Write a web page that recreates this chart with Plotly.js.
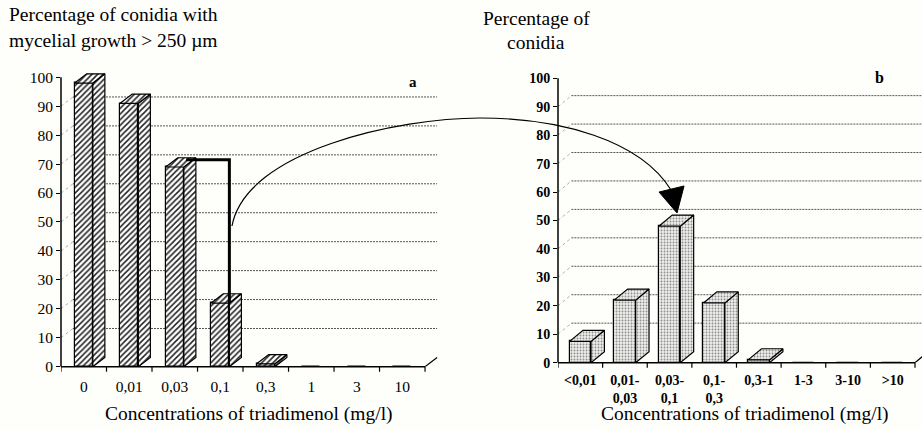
<!DOCTYPE html>
<html><head><meta charset="utf-8">
<script src="https://cdn.plot.ly/plotly-3.0.1.min.js"></script>
<style>html,body{margin:0;padding:0;background:#fefefb;} #chart{width:922px;height:429px;}</style>
</head><body><div id="chart"></div>
<script>
// ---- data ----
const leftCategories = ["0", "0,01", "0,03", "0,1", "0,3", "1", "3", "10"];
const leftValues = [98, 91, 69, 22, 1, 0, 0, 0];
const rightCategories = ["&lt;0,01", "0,01-<br>0,03", "0,03-<br>0,1", "0,1-<br>0,3", "0,3-1", "1-3", "3-10", "&gt;10"];
const rightValues = [7.5, 22, 48, 21, 1, 0, 0, 0];
const yTicks = [0, 10, 20, 30, 40, 50, 60, 70, 80, 90, 100];
const gridLevels = [10, 20, 30, 40, 50, 60, 70, 80, 90];
const leftTitleLines = ["Percentage of conidia with", "mycelial growth &gt; 250 µm"];
const rightTitleLines = ["Percentage of", "conidia"];
const xTitleText = "Concentrations of triadimenol (mg/l)";

// ---- style ----
const FONT = 'Liberation Serif';
const W = 922, H = 429;
const L = {w: 0.4, dx: 0.264, dy: 3.2, xa: 'x', ya: 'y', xr: [-0.5, 7.8], yr: [0, 104],
  xd: [61 / W, 438.7 / W], yd: [(H - 366.7) / H, (H - 65.7) / H]};
const R = {w: 0.48, dx: 0.30, dy: 3.9, xa: 'x2', ya: 'y2', xr: [-0.5, 7.657], yr: [0, 104],
  xd: [558 / W, 1], yd: [(H - 362.7) / H, (H - 66.9) / H]};
const hatch = {shape: '/', fgcolor: '#222', bgcolor: '#ffffff', size: 4, solidity: 0.38};
const stipple = {shape: '.', fgcolor: '#8a8a8a', bgcolor: '#f2f2f0', size: 3, solidity: 0.35};

function idx(arr) { return arr.map((_, i) => i); }

function faces(values, cfg) {
  const side = {x: [], y: []}, top = {x: [], y: []};
  values.forEach((v, i) => {
    if (v <= 0) return;
    const xl = i - cfg.w / 2, xr = i + cfg.w / 2;
    side.x.push(xr, xr + cfg.dx, xr + cfg.dx, xr, xr, null);
    side.y.push(0, cfg.dy, v + cfg.dy, v, 0, null);
    top.x.push(xl, xl + cfg.dx, xr + cfg.dx, xr, xl, null);
    top.y.push(v, v + cfg.dy, v + cfg.dy, v, v, null);
  });
  return {side, top};
}

function barTraces(values, cfg, pattern) {
  const f = faces(values, cfg);
  const base = {xaxis: cfg.xa, yaxis: cfg.ya, hoverinfo: 'skip', showlegend: false};
  return [
    Object.assign({type: 'bar', x: idx(values), y: values, width: cfg.w,
      marker: {color: pattern.bgcolor, pattern: pattern, line: {color: '#000', width: 1.2}}}, base),
    Object.assign({type: 'scatter', mode: 'lines', x: f.side.x, y: f.side.y, fill: 'toself',
      fillcolor: pattern.bgcolor, fillpattern: pattern, line: {color: '#000', width: 1.2}}, base),
    Object.assign({type: 'scatter', mode: 'lines', x: f.top.x, y: f.top.y, fill: 'toself',
      fillcolor: pattern.bgcolor, fillpattern: pattern, line: {color: '#000', width: 1.2}}, base)
  ];
}

function wallShapes(cfg, n) {
  const s = [];
  // axis lines (domain refs are not clipped)
  s.push({type: 'line', xref: cfg.xa + ' domain', yref: cfg.ya, x0: 0, x1: 0, y0: 0, y1: 100,
    line: {color: '#000', width: 1.5}});
  s.push({type: 'line', xref: cfg.xa, yref: cfg.ya + ' domain', x0: -0.5, x1: n - 0.5, y0: 0, y1: 0,
    line: {color: '#000', width: 1.5}});
  // category boundary ticks
  for (let b = 0; b <= n; b++) {
    s.push({type: 'line', xref: cfg.xa, yref: cfg.ya + ' domain', x0: b - 0.5, x1: b - 0.5,
      y0: 0, y1: -5 / H / (cfg.yd[1] - cfg.yd[0]), line: {color: '#000', width: 1.2}});
  }
  // back-wall gridlines and the small diagonals from the axis ticks
  gridLevels.forEach(k => {
    s.push({type: 'line', xref: cfg.xa, yref: cfg.ya, layer: 'below',
      x0: -0.5 + cfg.dx, x1: n - 0.5 + cfg.dx, y0: k + cfg.dy, y1: k + cfg.dy,
      line: {color: '#555', width: 1, dash: '2px,1px'}});
    s.push({type: 'line', xref: cfg.xa, yref: cfg.ya, layer: 'below',
      x0: -0.5, x1: -0.5 + cfg.dx, y0: k, y1: k + cfg.dy,
      line: {color: '#999', width: 0.8, dash: 'dot'}});
  });
  // floor right edge
  s.push({type: 'line', xref: cfg.xa, yref: cfg.ya, x0: n - 0.5, x1: n - 0.5 + cfg.dx, y0: 0, y1: cfg.dy,
    line: {color: '#000', width: 1.2}});
  return s;
}

const n = leftCategories.length;
const traces = [].concat(barTraces(leftValues, L, hatch), barTraces(rightValues, R, stipple));

function px(x, y) { return (x / W).toFixed(4) + ',' + (1 - y / H).toFixed(4); }

const shapes = [].concat(wallShapes(L, n), wallShapes(R, n));
// thick connector in left chart
shapes.push({type: 'path', xref: 'x', yref: 'y',
  path: 'M 2.25,' + (leftValues[2] + 2.5) + ' L ' + (3 + L.w / 2) + ',' + (leftValues[2] + 2.5) + ' L ' + (3 + L.w / 2) + ',' + leftValues[3],
  line: {color: '#000', width: 3}});
// curved arrow between panels
shapes.push({type: 'path', xref: 'paper', yref: 'paper',
  path: 'M ' + px(232, 226) + ' C ' + px(246, 150) + ' ' + px(400, 118) + ' ' + px(480, 118) +
        ' C ' + px(560, 118) + ' ' + px(640, 140) + ' ' + px(671, 190),
  line: {color: '#000', width: 1.2}});
shapes.push({type: 'path', xref: 'paper', yref: 'paper',
  path: 'M ' + px(659, 192) + ' L ' + px(684, 186) + ' L ' + px(677, 213) + ' Z',
  fillcolor: '#000', line: {color: '#000', width: 1}});

function ann(text, x, y, size, opts) {
  return Object.assign({text: text, xref: 'paper', yref: 'paper', x: x / W, y: 1 - y / H,
    showarrow: false, xanchor: 'center', yanchor: 'middle',
    font: {family: FONT, size: size, color: '#000'}}, opts || {});
}
const annotations = [
  ann(leftTitleLines[0], 7, 14, 19.5, {xanchor: 'left'}),
  ann(leftTitleLines[1], 7, 40.5, 19.5, {xanchor: 'left'}),
  ann(rightTitleLines[0], 536, 19, 19.5),
  ann(rightTitleLines[1], 536, 42.5, 19.5),
  ann(xTitleText, 249, 414, 19.5),
  ann(xTitleText, 745, 414, 19.5),
  ann('<b>a</b>', 413, 82, 15),
  ann('<b>b</b>', 879, 77, 16)
];

function xAxis(cfg, cats, font, standoff) {
  return {domain: cfg.xd, range: cfg.xr, tickmode: 'array', tickvals: idx(cats), ticktext: cats,
    ticks: '', showgrid: false, zeroline: false, showline: false, fixedrange: true,
    tickfont: font, ticklabelstandoff: standoff};
}
function yAxis(cfg, font) {
  return {domain: cfg.yd, range: cfg.yr, tickmode: 'array', tickvals: yTicks,
    ticks: 'outside', ticklen: 4, tickcolor: '#000', tickwidth: 1,
    showgrid: false, zeroline: false, showline: false, fixedrange: true, tickfont: font};
}

const layout = {
  width: W, height: H, margin: {l: 0, r: 0, t: 0, b: 0},
  font: {family: FONT, color: '#000'},
  paper_bgcolor: '#fefefb', plot_bgcolor: 'rgba(0,0,0,0)', showlegend: false, bargap: 0,
  xaxis: Object.assign(xAxis(L, leftCategories, {family: FONT, size: 15.5, color: '#000'}, 9), {anchor: 'y'}),
  yaxis: Object.assign(yAxis(L, {family: FONT, size: 15.5, color: '#000'}), {anchor: 'x'}),
  xaxis2: Object.assign(xAxis(R, rightCategories, {family: FONT, size: 14, color: '#000', weight: 'bold'}, 7), {anchor: 'y2'}),
  yaxis2: Object.assign(yAxis(R, {family: FONT, size: 14, color: '#000', weight: 'bold'}), {anchor: 'x2'}),
  shapes: shapes, annotations: annotations
};

Plotly.newPlot('chart', traces, layout, {displayModeBar: false});
</script>
</body></html>
